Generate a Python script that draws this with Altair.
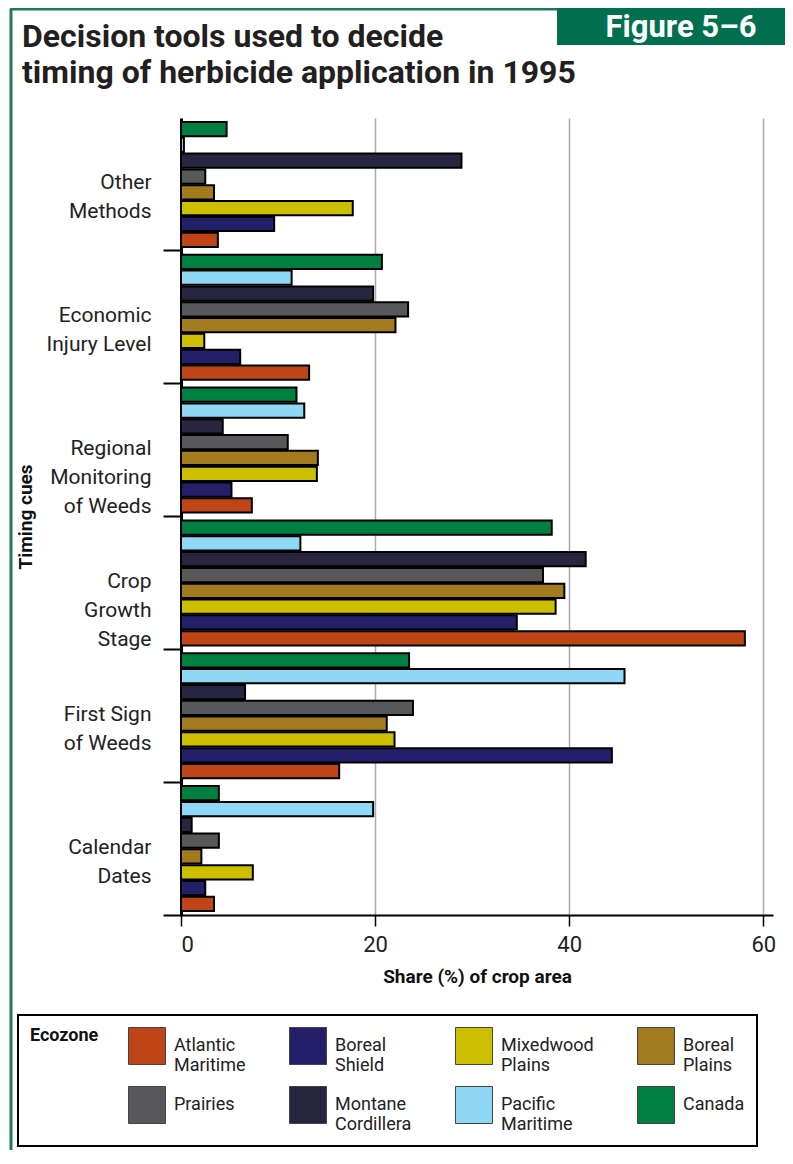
import altair as alt
import pandas as pd

# ---- data ----
categories = [
    "Other|Methods",
    "Economic|Injury Level",
    "Regional|Monitoring|of Weeds",
    "Crop|Growth|Stage",
    "First Sign|of Weeds",
    "Calendar|Dates",
]
ecozones = [
    "Atlantic Maritime", "Boreal Shield", "Mixedwood Plains", "Boreal Plains",
    "Prairies", "Montane Cordillera", "Pacific Maritime", "Canada",
]
colors = ["#BF4518", "#231F69", "#CCBF00", "#A27B1E",
          "#58585A", "#282540", "#8ED8F5", "#008040"]

atlantic_maritime = [3.8, 13.2, 7.3, 58.1, 16.3, 3.4]
boreal_shield = [9.6, 6.1, 5.2, 34.6, 44.4, 2.5]
mixedwood_plains = [17.7, 2.4, 14.0, 38.6, 22.0, 7.4]
boreal_plains = [3.4, 22.1, 14.1, 39.5, 21.2, 2.1]
prairies = [2.5, 23.4, 11.0, 37.3, 23.9, 3.9]
montane_cordillera = [28.9, 19.8, 4.3, 41.7, 6.6, 1.1]
pacific_maritime = [0.3, 11.4, 12.7, 12.3, 45.7, 19.8]
canada = [4.7, 20.7, 11.9, 38.2, 23.5, 3.9]

x_ticks = [0, 20, 40, 60]

series = [atlantic_maritime, boreal_shield, mixedwood_plains, boreal_plains,
          prairies, montane_cordillera, pacific_maritime, canada]

rows = []
for zone, vals in zip(ecozones, series):
    for cat, v in zip(categories, vals):
        rows.append({"cue": cat, "ecozone": zone, "share": v})
df = pd.DataFrame(rows)

LABEL_FONT = "Roboto, sans-serif"
BOLD_FONT = "Roboto, sans-serif"

W, H = 592, 797

bars = alt.Chart(df).mark_bar(stroke="black", strokeWidth=2).encode(
    x=alt.X(
        "share:Q",
        scale=alt.Scale(domain=[0, 61], nice=False),
        axis=alt.Axis(
            values=x_ticks, title="Share (%) of crop area", grid=True,
            gridColor="#aaaaaa", gridWidth=1.5, domainColor="black",
            domainWidth=2, tickColor="black", tickWidth=1.5, tickSize=11,
            labelFont=LABEL_FONT, labelFontSize=22, labelColor="#222",
            labelPadding=8, titleFont=BOLD_FONT, titleFontSize=19,
            titleFontWeight="bold", titleColor="#111", titlePadding=12,
        ),
    ),
    y=alt.Y(
        "cue:N", sort=categories,
        scale=alt.Scale(paddingInner=0, paddingOuter=0),
        axis=alt.Axis(
            title="Timing cues", bandPosition=1, tickSize=18, tickWidth=2,
            tickColor="black", domainColor="black", domainWidth=3,
            labelExpr="split(datum.label, '|')", labelFont=LABEL_FONT,
            labelFontSize=21, labelLineHeight=29, labelColor="#222",
            labelBaseline="top", labelAlign="right", labelOffset=-12,
            labelPadding=12, titleFont=BOLD_FONT, titleFontSize=19,
            titleFontWeight="bold", titleColor="#111", titlePadding=11,
        ),
    ),
    yOffset=alt.YOffset(
        "ecozone:N", sort=list(reversed(ecozones)),
        scale=alt.Scale(paddingInner=0.1, paddingOuter=0.25),
    ),
    color=alt.Color(
        "ecozone:N",
        scale=alt.Scale(domain=ecozones, range=colors),
        legend=alt.Legend(
            orient="none", legendX=-163, legendY=897, columns=4,
            direction="horizontal",
            title="Ecozone", titleOrient="left", titleFont=BOLD_FONT,
            titleFontSize=18, titleFontWeight="bold", titleColor="#111",
            titleBaseline="top", titleAnchor="start", titlePadding=29,
            symbolType="square", symbolSize=1369, symbolStrokeColor="#444",
            symbolStrokeWidth=1, symbolOpacity=1,
            labelExpr="split(datum.label, ' ')", labelFont=LABEL_FONT,
            labelFontSize=18, labelColor="#222",
            labelBaseline="middle", labelOffset=8, labelLimit=200,
            columnPadding=41, rowPadding=9, padding=12, gridAlign="each",
            strokeColor="black", fillColor="white",
        ),
    ),
)

badge_df = pd.DataFrame({"label": ["Figure 5\u20136"]})
badge_box = alt.Chart(badge_df).mark_rect(color="#00704F").encode(
    x=alt.value(376), x2=alt.value(604), y=alt.value(-111), y2=alt.value(-73)
)
badge_text = alt.Chart(badge_df).mark_text(
    font=BOLD_FONT, fontSize=31, fontWeight="bold", color="white",
    align="center", baseline="middle",
).encode(text="label:N", x=alt.value(500), y=alt.value(-90))
frame_left = alt.Chart(badge_df).mark_rule(color="#1E7B5C", strokeWidth=3).encode(
    x=alt.value(-170), y=alt.value(-109), y2=alt.value(1040)
)
frame_top = alt.Chart(badge_df).mark_rule(color="#1E7B5C", strokeWidth=3).encode(
    x=alt.value(-171), x2=alt.value(376), y=alt.value(-109)
)

chart = alt.layer(frame_left, frame_top, bars, badge_box, badge_text).properties(
    width=W, height=H,
    autosize=alt.AutoSizeParams(type="none"),
    padding={"left": 173, "top": 110, "right": 12, "bottom": 235},
    background="white",
    title=alt.TitleParams(
        text=["Decision tools used to decide",
              "timing of herbicide application in 1995"],
        anchor="start", frame="group", dx=-159, dy=83, offset=0,
        font=BOLD_FONT, fontSize=32, fontWeight="bold", color="#231f20",
        lineHeight=36,
    ),
).configure_view(stroke=None).configure_legend(strokeWidth=2)

chart.save("out.html", embed_options={"renderer": "svg", "actions": False})
